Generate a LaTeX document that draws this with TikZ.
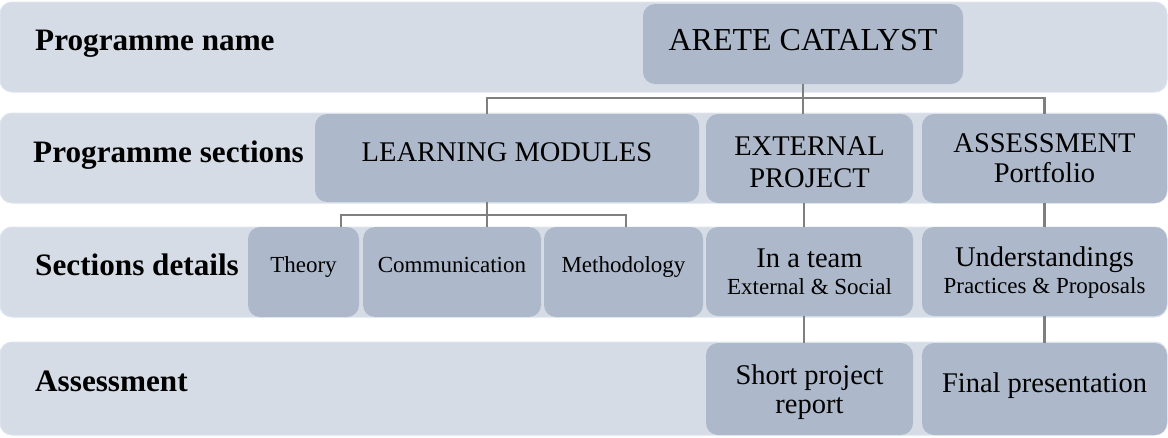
\documentclass[tikz,border=0pt]{standalone}
\usepackage{fontspec}
\setmainfont{Liberation Serif}
\definecolor{bandc}{HTML}{D6DCE5}
\definecolor{bandedge}{HTML}{DEE4EF}
\definecolor{boxc}{HTML}{ADB9CA}
\definecolor{linec}{HTML}{7F7F7F}
\newcommand\mkbox[6]{\node[#2, minimum width={#5pt-#3pt}, minimum height={#6pt-#4pt}] (#1) at (#3,#4) {};}
\begin{document}
\begin{tikzpicture}[x=1pt,y=-1pt,
  band/.style={fill=bandc, draw=bandedge, line width=1pt, rounded corners=12pt, anchor=north west, inner sep=0pt, outer sep=0pt},
  bx/.style={fill=boxc, rounded corners=12pt, anchor=north west, inner sep=0pt, outer sep=0pt},
  lab/.style={anchor=base west, inner sep=0pt, font=\fontsize{31.2}{36}\selectfont\bfseries},
  big/.style={anchor=base, inner sep=0pt, font=\fontsize{28.5}{32}\selectfont},
  small/.style={anchor=base, inner sep=0pt, font=\fontsize{23}{27}\selectfont},
  conn/.style={draw=linec, line width=2.6pt}]
\useasboundingbox (0,0) rectangle (1168,437);
% bands
\mkbox{band1}{band}{0}{2}{1167}{92}
\mkbox{band2}{band}{0}{113}{1167}{203}
\mkbox{band3}{band}{0}{227}{1167}{317}
\mkbox{band4}{band}{0}{342}{1167}{435}
% row labels
\node[lab] (l1) at (35,50) {Programme name};
\node[lab] (l2) at (33,162) {Programme sections};
\node[lab] (l3) at (35,275) {Sections details};
\node[lab] (l4) at (35,391) {Assessment};
% boxes
\mkbox{arete}{bx}{643}{4}{963}{84}
\mkbox{lm}{bx}{315}{114}{699}{202}
\mkbox{ext}{bx}{706}{114}{913}{203}
\mkbox{ass}{bx}{922}{114}{1167}{203}
\mkbox{theory}{bx}{248}{227}{359}{317}
\mkbox{comm}{bx}{363}{227}{541}{317}
\mkbox{meth}{bx}{544}{227}{703}{317}
\mkbox{team}{bx}{706}{227}{913}{316}
\mkbox{und}{bx}{922}{227}{1167}{316}
\mkbox{short}{bx}{706}{343}{913}{435}
\mkbox{fin}{bx}{922}{343}{1167}{435}
% connectors
\coordinate (b1L) at (487,98);
\coordinate (b2) at (487,215);
\coordinate (b2L) at (341,215);
\coordinate (b2R) at (626,215);
\coordinate (cx) at (804,0);
\draw[conn] (arete.south) -- (arete.south |- ext.north);
\draw[conn] (b1L |- lm.north) -- (b1L) -| (ass.north);
\draw[conn] (b2 |- lm.south) -- (b2 |- comm.north);
\draw[conn] (b2L |- theory.north) -- (b2L) -- (b2R) -- (b2R |- meth.north);
\draw[conn] (ext.south -| cx) -- (team.north -| cx);
\draw[conn] (team.south -| cx) -- (short.north -| cx);
\draw[conn] (ass.south) -- (und.north);
\draw[conn] (und.south) -- (fin.north);
% texts
\node[big, font=\fontsize{32}{36}\selectfont] (tarete) at (arete.north |- 0,50) {ARETE CATALYST};
\node[big] (tlm) at (lm.north |- 0,161) {LEARNING MODULES};
\node[big] (text1) at (ext.north |- 0,155) {EXTERNAL};
\node[big] (text2) at (ext.north |- 0,187) {PROJECT};
\node[big] (tass1) at (ass.north |- 0,152) {ASSESSMENT};
\node[big] (tass2) at (ass.north |- 0,182) {Portfolio};
\node[small] (ttheory) at (theory.north |- 0,272) {Theory};
\node[small] (tcomm) at (comm.north |- 0,272) {Communication};
\node[small] (tmeth) at (meth.north |- 0,272) {Methodology};
\node[big] (tteam1) at (team.north |- 0,267) {In a team};
\node[small] (tteam2) at (team.north |- 0,294) {External \& Social};
\node[big] (tund1) at (und.north |- 0,266) {Understandings};
\node[small] (tund2) at (und.north |- 0,293) {Practices \& Proposals};
\node[big] (tshort1) at (short.north |- 0,384) {Short project};
\node[big] (tshort2) at (short.north |- 0,413) {report};
\node[big] (tfin) at (fin.north |- 0,392) {Final presentation};
\end{tikzpicture}
\end{document}
